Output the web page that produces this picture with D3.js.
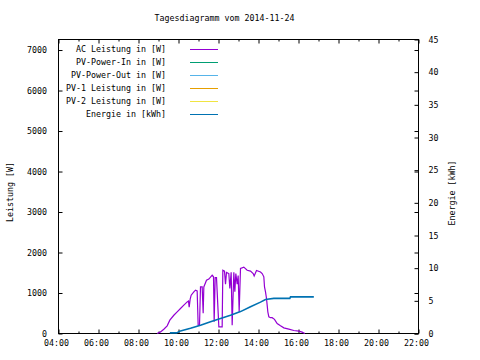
<!DOCTYPE html>
<html>
<head>
<meta charset="utf-8">
<script src="https://cdn.jsdelivr.net/npm/d3@7"></script>
<style>
  html, body { margin: 0; padding: 0; background: #fff; }
  svg { display: block; }
  text { font-family: "DejaVu Sans Mono", monospace; font-size: 8.3px; fill: #000; }
</style>
</head>
<body>
<svg id="chart" width="480" height="360"></svg>
<script>
// ---------- data ----------
const title = "Tagesdiagramm vom 2014-11-24";
const dateStr = "2014-11-24";
const seriesNames = ["AC Leistung in [W]", "PV-Power-In in [W]", "PV-Power-Out in [W]",
                     "PV-1 Leistung in [W]", "PV-2 Leistung in [W]", "Energie in [kWh]"];
const seriesColors = ["#9400d3", "#009e73", "#56b4e9", "#e69f00", "#f0e442", "#0072b2"];
const yLeftLabel = "Leistung [W]";
const yRightLabel = "Energie [kWh]";
const xTickHours = [4, 6, 8, 10, 12, 14, 16, 18, 20, 22];
const xMinorHours = [5, 7, 9, 11, 13, 15, 17, 19, 21];
const yLeftTicks = [0, 1000, 2000, 3000, 4000, 5000, 6000, 7000];
const yRightTicks = [0, 5, 10, 15, 20, 25, 30, 35, 40, 45];

const acTimes = ["08:56","09:06","09:16","09:26","09:34","09:46","09:56","10:06","10:16","10:26",
  "10:30","10:32","10:35","10:38","10:46","10:51","10:56","10:59","11:03","11:06",
  "11:11","11:14","11:16","11:24","11:31","11:41","11:45","11:47","11:50","11:54",
  "12:01","12:11","12:13","12:18","12:21","12:24","12:31","12:34","12:38","12:41",
  "12:46","12:49","12:52","12:56","12:59","13:02","13:06","13:16","13:26","13:36",
  "13:44","13:47","13:54","14:06","14:11","14:16","14:18","14:21","14:24","14:26",
  "14:28","14:31","14:36","14:41","14:48","14:56","15:06","15:16","15:31","15:46",
  "16:01","16:11","16:19"];
const acWatts = [0, 40, 106, 190, 330, 450, 533, 617, 700, 780,
  800, 650, 850, 946, 1027, 1070, 1050, 205, 200, 1150,
  1150, 500, 1150, 1315, 1345, 1440, 1400, 290, 1380, 1380,
  165, 165, 1563, 1540, 1220, 1510, 1480, 1110, 1510, 205,
  1510, 1030, 1480, 1220, 1430, 535, 1605, 1640, 1563, 1540,
  1480, 1420, 1555, 1520, 1480, 1400, 1150, 1030, 864, 700,
  535, 410, 390, 390, 350, 247, 190, 140, 107, 74,
  58, 33, 0];

const pvInTimes = [], pvInWatts = [];
const pvOutTimes = [], pvOutWatts = [];
const pv1Times = [], pv1Watts = [];
const pv2Times = [], pv2Watts = [];

const energyTimes = ["09:34","09:54","10:06","10:36","11:06","11:36","12:06","12:36","13:06",
  "13:36","14:06","14:21","14:26","14:46","15:34","15:36","16:46"];
const energyKWh = [0.1, 0.1, 0.4, 0.8, 1.27, 1.8, 2.3, 2.8, 3.35,
  4.1, 4.8, 5.2, 5.25, 5.38, 5.38, 5.6, 5.6];

// ---------- layout ----------
const L = 58.5, R = 418.5, T = 39.5, B = 333.5;
const svg = d3.select("#chart");
const parseT = s => d3.timeParse("%Y-%m-%d %H:%M")(dateStr + " " + s);
const hourDate = h => parseT(String(h).padStart(2, "0") + ":00");

const x = d3.scaleTime().domain([hourDate(4), hourDate(22)]).range([L, R]);
const yL = d3.scaleLinear().domain([0, 7260]).range([B, T]);
const yR = d3.scaleLinear().domain([0, 45]).range([B, T]);
const fmt = d3.timeFormat("%H:%M");

// axes
const gxB = svg.append("g").attr("transform", `translate(0,${B})`)
  .call(d3.axisBottom(x).tickValues(xTickHours.map(hourDate)).tickSize(-4).tickPadding(7).tickFormat(fmt));
gxB.selectAll("text").attr("dx", -2.5);
const gxBm = svg.append("g").attr("transform", `translate(0,${B})`)
  .call(d3.axisBottom(x).tickValues(xMinorHours.map(hourDate)).tickSize(-2).tickFormat(""));
const gxT = svg.append("g").attr("transform", `translate(0,${T})`)
  .call(d3.axisTop(x).tickValues(xTickHours.map(hourDate)).tickSize(-4).tickFormat(""));
const gxTm = svg.append("g").attr("transform", `translate(0,${T})`)
  .call(d3.axisTop(x).tickValues(xMinorHours.map(hourDate)).tickSize(-2).tickFormat(""));
const gyL = svg.append("g").attr("transform", `translate(${L},0)`)
  .call(d3.axisLeft(yL).tickValues(yLeftTicks).tickSize(-4).tickPadding(11.5).tickFormat(d3.format("d")));
const gyLm = svg.append("g").attr("transform", `translate(${R},0)`)
  .call(d3.axisRight(yL).tickValues(yLeftTicks).tickSize(-4).tickFormat(""));
const gyR = svg.append("g").attr("transform", `translate(${R},0)`)
  .call(d3.axisRight(yR).tickValues(yRightTicks).tickSize(-4).tickPadding(10).tickFormat(d3.format("d")));

svg.selectAll(".domain").remove();
svg.selectAll(".tick line").attr("stroke", "#000").attr("stroke-width", 1);
svg.selectAll(".tick text").attr("font-family", null).attr("font-size", null);

// border
svg.append("rect").attr("x", L).attr("y", T).attr("width", R - L).attr("height", B - T)
  .attr("fill", "none").attr("stroke", "#000").attr("stroke-width", 1);

// lines
const lineW = d3.line().x(d => x(d[0])).y(d => yL(d[1]));
const lineE = d3.line().x(d => x(d[0])).y(d => yR(d[1]));
const zipS = (ts, vs) => ts.map((t, i) => [parseT(t), vs[i]]);

const wattSeries = [
  [acTimes, acWatts], [pvInTimes, pvInWatts], [pvOutTimes, pvOutWatts],
  [pv1Times, pv1Watts], [pv2Times, pv2Watts]
];
wattSeries.forEach((s, i) => {
  const data = zipS(s[0], s[1]);
  if (data.length) svg.append("path").datum(data).attr("d", lineW)
    .attr("fill", "none").attr("stroke", seriesColors[i]).attr("stroke-width", 1.2);
});
svg.append("path").datum(zipS(energyTimes, energyKWh)).attr("d", lineE)
  .attr("fill", "none").attr("stroke", seriesColors[5]).attr("stroke-width", 1.6);

// legend
seriesNames.forEach((n, i) => {
  const cy = 49.5 + i * 13;
  svg.append("text").attr("x", 166).attr("y", cy).attr("dy", "0.35em")
    .attr("text-anchor", "end").text(n);
  svg.append("line").attr("x1", 190).attr("x2", 218).attr("y1", cy).attr("y2", cy)
    .attr("stroke", seriesColors[i]).attr("stroke-width", 1);
});

// titles
svg.append("text").attr("x", 224.5).attr("y", 18).attr("dy", "0.35em")
  .attr("text-anchor", "middle").text(title);
svg.append("text").attr("transform", "translate(10,192) rotate(-90)").attr("dy", "0.35em")
  .attr("text-anchor", "middle").text(yLeftLabel);
svg.append("text").attr("transform", "translate(452,193) rotate(-90)").attr("dy", "0.35em")
  .attr("text-anchor", "middle").text(yRightLabel);
</script>
</body>
</html>
